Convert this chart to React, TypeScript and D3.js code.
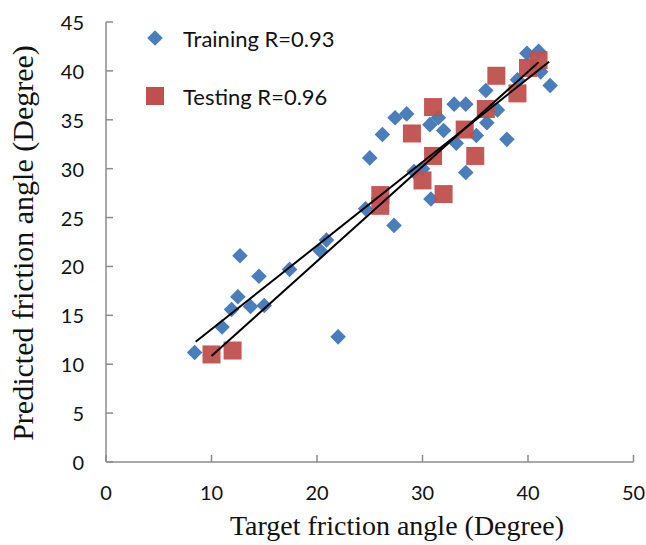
import React from 'react'
import * as d3 from 'd3'

// training points [target, predicted]
const trainX = [8.4, 11.0, 11.9, 12.5, 12.7, 13.7, 14.5, 15.0, 17.4, 20.3, 20.9, 22.0, 24.6, 25.0, 26.2, 27.3, 27.4, 28.5, 29.2, 30.0, 30.8, 30.7, 31.5, 32.0, 33.0, 33.2, 34.1, 34.1, 35.1, 36.0, 36.1, 37.1, 38.0, 39.0, 39.9, 41.0, 41.2, 42.1]
const trainY = [11.2, 13.8, 15.6, 16.9, 21.1, 15.9, 19.0, 16.0, 19.7, 21.6, 22.7, 12.8, 25.9, 31.1, 33.5, 24.2, 35.2, 35.6, 29.7, 30.0, 26.9, 34.5, 35.2, 33.9, 36.6, 32.6, 36.6, 29.6, 33.4, 38.0, 34.7, 36.0, 33.0, 39.1, 41.8, 42.0, 39.9, 38.5]

// testing points
const testX = [10.0, 12.0, 26.0, 26.0, 29.0, 30.0, 31.0, 31.0, 32.0, 34.0, 35.0, 36.0, 37.0, 39.0, 40.0, 41.0]
const testY = [11.0, 11.4, 27.3, 26.2, 33.6, 28.8, 36.3, 31.3, 27.4, 34.0, 31.3, 36.1, 39.5, 37.7, 40.3, 41.1]

// linear trend lines: [slope, intercept], x range
const trainFit = [0.855, 5.03]
const trainRange = [8.5, 42]
const testFit = [0.969, 1.15]
const testRange = [10, 41]

const xTicks = [0, 10, 20, 30, 40, 50]
const yTicks = [0, 5, 10, 15, 20, 25, 30, 35, 40, 45]

const legend = ['Training R=0.93', 'Testing R=0.96']

export default function App() {
  const width = 646
  const height = 545
  const x = d3.scaleLinear().domain([0, 50]).range([106, 633.5])
  const y = d3.scaleLinear().domain([0, 45]).range([462, 22])

  const diamond = d3.symbol().type(d3.symbolDiamond2).size(155)
  const line = d3.line()

  const fitPts = (fit, r) => r.map(v => [x(v), y(fit[0] * v + fit[1])])

  const axisColor = '#8c8c8c'
  const blue = '#4a7ebb'
  const red = '#c0504d'
  const sq = 18

  return (
    <svg width={width} height={height} style={{position: 'absolute', left: 0, top: 0, background: 'white'}}>
      {/* axes */}
      <g stroke={axisColor} strokeWidth="1.5" fill="none">
        <line x1={x(0)} y1={y(45)} x2={x(0)} y2={y(0)} />
        <line x1={x(0)} y1={y(0)} x2={x(50)} y2={y(0)} />
        {yTicks.map(t => <line key={'yt' + t} x1={x(0)} x2={x(0) + 7} y1={y(t)} y2={y(t)} />)}
        {xTicks.map(t => <line key={'xt' + t} x1={x(t)} x2={x(t)} y1={y(0)} y2={y(0) - 7} />)}
      </g>
      <g fontFamily="Lato" fontSize="20" fill="#111">
        {yTicks.map(t => (
          <text key={'yl' + t} x={84} y={y(t)} textAnchor="end" dominantBaseline="central">{t}</text>
        ))}
        {xTicks.map(t => (
          <text key={'xl' + t} x={x(t)} y={500} textAnchor="middle">{t}</text>
        ))}
      </g>
      <text x={397} y={535} textAnchor="middle" fontFamily="Liberation Serif" fontSize="28" fill="#111">Target friction angle (Degree)</text>
      <text transform={`translate(33,${243}) rotate(-90)`} textAnchor="middle" fontFamily="Liberation Serif" fontSize="30" fill="#111">Predicted friction angle (Degree)</text>

      {/* points */}
      <g fill={blue}>
        {trainX.map((v, i) => (
          <path key={'tr' + i} d={diamond()} transform={`translate(${x(v)},${y(trainY[i])})`} />
        ))}
      </g>
      <g fill={red} fillOpacity="0.95">
        {testX.map((v, i) => (
          <rect key={'te' + i} x={x(v) - sq / 2} y={y(testY[i]) - sq / 2} width={sq} height={sq} />
        ))}
      </g>

      {/* trend lines */}
      <path d={line(fitPts(trainFit, trainRange))} stroke="#000" strokeWidth="2" fill="none" />
      <path d={line(fitPts(testFit, testRange))} stroke="#000" strokeWidth="2" fill="none" />

      {/* legend */}
      <path d={diamond()} transform="translate(155,38)" fill={blue} />
      <rect x={155 - sq / 2} y={96 - sq / 2} width={sq} height={sq} fill={red} />
      <g fontFamily="Lato" fontSize="22" fill="#111">
        <text x={183} y={38} dominantBaseline="central">{legend[0]}</text>
        <text x={183} y={96} dominantBaseline="central">{legend[1]}</text>
      </g>
    </svg>
  )
}
